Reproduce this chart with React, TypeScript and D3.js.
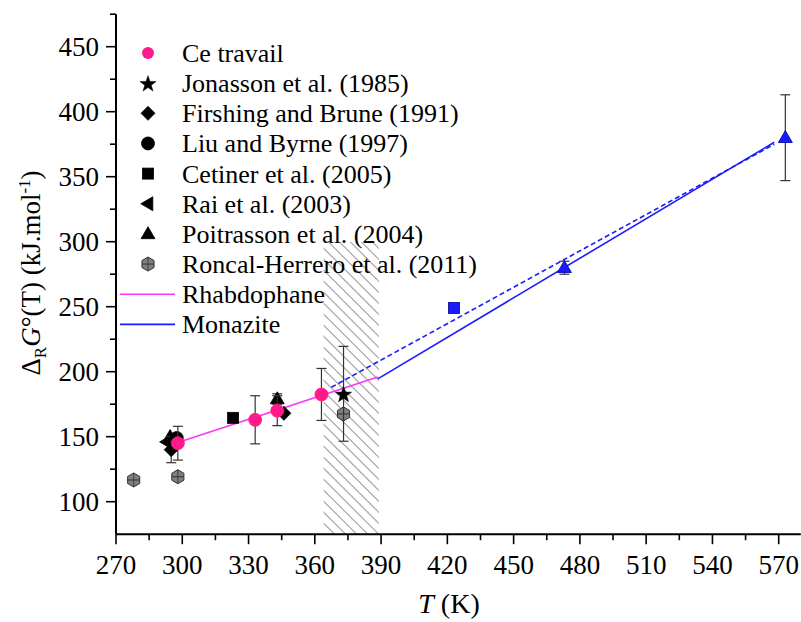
import React from "react";
import * as d3 from "d3";

// ---------- data ----------
// [T (K), ΔG (kJ/mol), error]
const ceTravail: [number, number, number][] = [
  [298, 145, 13],
  [333, 163, 18.5],
  [343, 170, 11.5],
  [363, 182.5, 20],
];
const jonasson: [number, number, number][] = [[373, 183, 36.5]];
const firshing: [number, number, number][] = [
  [295, 140, 10],
  [346, 168, 0],
];
const liuByrne: [number, number, number][] = [[297.5, 149, 0]];
const cetiner: [number, number, number][] = [[323, 164.5, 0]];
const rai: [number, number, number][] = [[293, 146, 0]];
const poitrasson: [number, number, number][] = [
  [294.5, 150, 0],
  [343, 179, 4],
];
const roncal: [number, number, number][] = [
  [278, 116.7, 0],
  [298, 119.2, 0],
  [373, 167.5, 0],
];
const monaziteSquare: [number, number, number][] = [[423, 249, 2]];
const monaziteTriangle: [number, number, number][] = [
  [473, 280, 5],
  [573, 380, 33],
];
const rhabdophaneLine: [number, number][] = [
  [298, 145.5],
  [388.5, 196],
];
const monaziteSolid: [number, number][] = [
  [388.5, 194.5],
  [568, 376.5],
];
const monaziteDashed: [number, number][] = [
  [367.5, 188],
  [568, 375],
];
const hatchRange: [number, number] = [364, 389];
const hatchTop = 300;

const xTicks = [270, 300, 330, 360, 390, 420, 450, 480, 510, 540, 570];
const yTicks = [100, 150, 200, 250, 300, 350, 400, 450];
const legendSymbols = [
  "Ce travail",
  "Jonasson et al. (1985)",
  "Firshing and Brune (1991)",
  "Liu and Byrne (1997)",
  "Cetiner et al. (2005)",
  "Rai et al. (2003)",
  "Poitrasson et al. (2004)",
  "Roncal-Herrero et al. (2011)",
];
const legendLines = ["Rhabdophane", "Monazite"];

// ---------- layout ----------
const W = 801;
const H = 622;
const x = d3.scaleLinear().domain([270, 580]).range([116, 800.8]);
const y = d3.scaleLinear().domain([75, 475]).range([534.2, 14.2]);

const PINK = "#ff1a8c";
const MAGENTA = "#ff33ff";
const BLUE = "#1a1aff";
const ts = { fontFamily: '"Liberation Serif"' };

type Shape = "circle" | "star" | "diamond" | "square" | "left" | "up" | "hex";

function Marker({ shape, cx, cy, fill, stroke }: { shape: Shape; cx: number; cy: number; fill: string; stroke?: string }) {
  const s = stroke ?? fill;
  if (shape === "circle") return <circle cx={cx} cy={cy} r={6.5} fill={fill} stroke={s} strokeWidth={0.8} />;
  if (shape === "square") return <rect x={cx - 5.5} y={cy - 5.5} width={11} height={11} fill={fill} stroke={s} strokeWidth={0.8} />;
  if (shape === "diamond") {
    const r = 7;
    return <path d={`M${cx},${cy - r}L${cx + r},${cy}L${cx},${cy + r}L${cx - r},${cy}Z`} fill={fill} stroke={s} strokeWidth={0.8} />;
  }
  if (shape === "up") {
    const w = 14, h = 12;
    return <path d={`M${cx},${cy - h * 0.6}L${cx + w / 2},${cy + h * 0.4}L${cx - w / 2},${cy + h * 0.4}Z`} fill={fill} stroke={s} strokeWidth={0.8} />;
  }
  if (shape === "left") {
    const w = 12, h = 14;
    return <path d={`M${cx - w * 0.6},${cy}L${cx + w * 0.4},${cy - h / 2}L${cx + w * 0.4},${cy + h / 2}Z`} fill={fill} stroke={s} strokeWidth={0.8} />;
  }
  if (shape === "star") {
    const R = 8.5, r = R * 0.4;
    const pts = d3.range(10).map((i) => {
      const a = -Math.PI / 2 + (i * Math.PI) / 5;
      const rad = i % 2 === 0 ? R : r;
      return [cx + rad * Math.cos(a), cy + rad * Math.sin(a) + 1];
    });
    return <path d={"M" + pts.map((p) => p.join(",")).join("L") + "Z"} fill={fill} stroke={s} strokeWidth={0.5} />;
  }
  // hexagon
  const R = 7;
  const pts = d3.range(6).map((i) => {
    const a = -Math.PI / 2 + (i * Math.PI) / 3;
    return [cx + R * Math.cos(a), cy + R * Math.sin(a)];
  });
  return (
    <g>
      <path d={"M" + pts.map((p) => p.join(",")).join("L") + "Z"} fill="#7f7f7f" stroke="#333" strokeWidth={1} />
      <line x1={cx - R * 0.85} x2={cx + R * 0.85} y1={cy} y2={cy} stroke="#333" strokeWidth={1} />
      <line x1={cx} x2={cx} y1={cy - R} y2={cy + R} stroke="#333" strokeWidth={0.8} />
    </g>
  );
}

function ErrorBar({ t, v, e }: { t: number; v: number; e: number }) {
  if (!e) return null;
  const cx = x(t);
  const y1 = y(v + e), y2 = y(v - e);
  return (
    <g stroke="#333" strokeWidth={1.2}>
      <line x1={cx} x2={cx} y1={y1} y2={y2} />
      <line x1={cx - 5} x2={cx + 5} y1={y1} y2={y1} />
      <line x1={cx - 5} x2={cx + 5} y1={y2} y2={y2} />
    </g>
  );
}

function Series({ data, shape, fill, stroke }: { data: [number, number, number][]; shape: Shape; fill: string; stroke?: string }) {
  return (
    <g>
      {data.map(([t, v, e], i) => (
        <g key={i}>
          <ErrorBar t={t} v={v} e={e} />
          <Marker shape={shape} cx={x(t)} cy={y(v)} fill={fill} stroke={stroke} />
        </g>
      ))}
    </g>
  );
}

export default function App() {
  const line = d3
    .line<[number, number]>()
    .x((d) => x(d[0]))
    .y((d) => y(d[1]));

  const hx0 = x(hatchRange[0]), hx1 = x(hatchRange[1]);
  const hy0 = y(hatchTop), hy1 = y(75);
  const hatchLines: number[] = d3.range(hx0 - (hy1 - hy0), hx1 + 2, 11);

  const xMinor = d3.range(285, 580, 30);
  const yMinor = d3.range(125, 476, 50);

  const legendShapes: Shape[] = ["circle", "star", "diamond", "circle", "square", "left", "up", "hex"];
  const legendY0 = 53;
  const legendStep = 30.15;

  return (
    <svg width={W} height={H} style={{ position: "absolute", left: 0, top: 0 }}>
      <rect width={W} height={H} fill="#fff" />
      <defs>
        <clipPath id="hatchClip">
          <rect x={hx0} y={hy0} width={hx1 - hx0} height={hy1 - hy0} />
        </clipPath>
      </defs>

      {/* hatched region */}
      <g clipPath="url(#hatchClip)" stroke="#a8a8a8" strokeWidth={1.2}>
        {hatchLines.map((sx, i) => (
          <line key={i} x1={sx} y1={hy0} x2={sx + (hy1 - hy0)} y2={hy1} />
        ))}
      </g>

      {/* lines */}
      <path d={line(rhabdophaneLine) ?? ""} fill="none" stroke={MAGENTA} strokeWidth={1.6} />
      <path d={line(monaziteSolid) ?? ""} fill="none" stroke={BLUE} strokeWidth={1.6} />
      <path d={line(monaziteDashed) ?? ""} fill="none" stroke={BLUE} strokeWidth={1.6} strokeDasharray="5,3" />

      {/* points */}
      <Series data={roncal} shape="hex" fill="#7f7f7f" />
      <Series data={rai} shape="left" fill="#000" />
      <Series data={poitrasson} shape="up" fill="#000" />
      <Series data={firshing} shape="diamond" fill="#000" />
      <Series data={liuByrne} shape="circle" fill="#000" />
      <Series data={cetiner} shape="square" fill="#000" />
      <Series data={jonasson} shape="star" fill="#000" />
      <Series data={ceTravail} shape="circle" fill={PINK} />
      <Series data={monaziteSquare} shape="square" fill={BLUE} stroke="#0000a0" />
      <Series data={monaziteTriangle} shape="up" fill={BLUE} stroke="#0000a0" />

      {/* axes */}
      <g stroke="#000" strokeWidth={2}>
        <line x1={x(270)} x2={x(580)} y1={y(75)} y2={y(75)} />
        <line x1={x(270)} x2={x(270)} y1={y(75)} y2={y(475)} />
      </g>
      <g stroke="#000" strokeWidth={1.6}>
        {xTicks.map((t) => (
          <line key={t} x1={x(t)} x2={x(t)} y1={y(75)} y2={y(75) + 10} />
        ))}
        {xMinor.map((t) => (
          <line key={"m" + t} x1={x(t)} x2={x(t)} y1={y(75)} y2={y(75) + 6} />
        ))}
        {yTicks.map((v) => (
          <line key={v} x1={x(270) - 10} x2={x(270)} y1={y(v)} y2={y(v)} />
        ))}
        {yMinor.map((v) => (
          <line key={"m" + v} x1={x(270) - 6} x2={x(270)} y1={y(v)} y2={y(v)} />
        ))}
      </g>
      {xTicks.map((t) => (
        <text key={t} x={x(t)} y={574} textAnchor="middle" fontSize={27} style={ts}>
          {t}
        </text>
      ))}
      {yTicks.map((v) => (
        <text key={v} x={99} y={y(v) + 9} textAnchor="end" fontSize={27} style={ts}>
          {v}
        </text>
      ))}

      {/* axis titles */}
      <text x={449} y={613} fontSize={28} textAnchor="middle" style={ts}>
        <tspan fontStyle="italic">T</tspan> (K)
      </text>
      <text transform="translate(40,273) rotate(-90)" fontSize={27} textAnchor="middle" style={ts}>
        Δ<tspan fontSize={17} dy={6}>R</tspan>
        <tspan dy={-6} fontStyle="italic">G</tspan>°(T) (kJ.mol<tspan fontSize={17} dy={-10}>-1</tspan>
        <tspan dy={10}>)</tspan>
      </text>

      {/* legend */}
      {legendSymbols.map((name, i) => {
        const cy = legendY0 + i * legendStep;
        const shape = legendShapes[i];
        return (
          <g key={name}>
            {shape === "circle" && i === 0 ? (
              <circle cx={148} cy={cy} r={6} fill={PINK} />
            ) : (
              <Marker shape={shape} cx={148} cy={cy} fill={shape === "hex" ? "#7f7f7f" : "#000"} />
            )}
            <text x={182} y={cy + 9} fontSize={26} style={ts}>
              {name}
            </text>
          </g>
        );
      })}
      {legendLines.map((name, i) => {
        const cy = legendY0 + (legendSymbols.length + i) * legendStep;
        return (
          <g key={name}>
            <line x1={120} x2={175} y1={cy} y2={cy} stroke={i === 0 ? MAGENTA : BLUE} strokeWidth={1.6} />
            <text x={182} y={cy + 9} fontSize={26} style={ts}>
              {name}
            </text>
          </g>
        );
      })}
    </svg>
  );
}
